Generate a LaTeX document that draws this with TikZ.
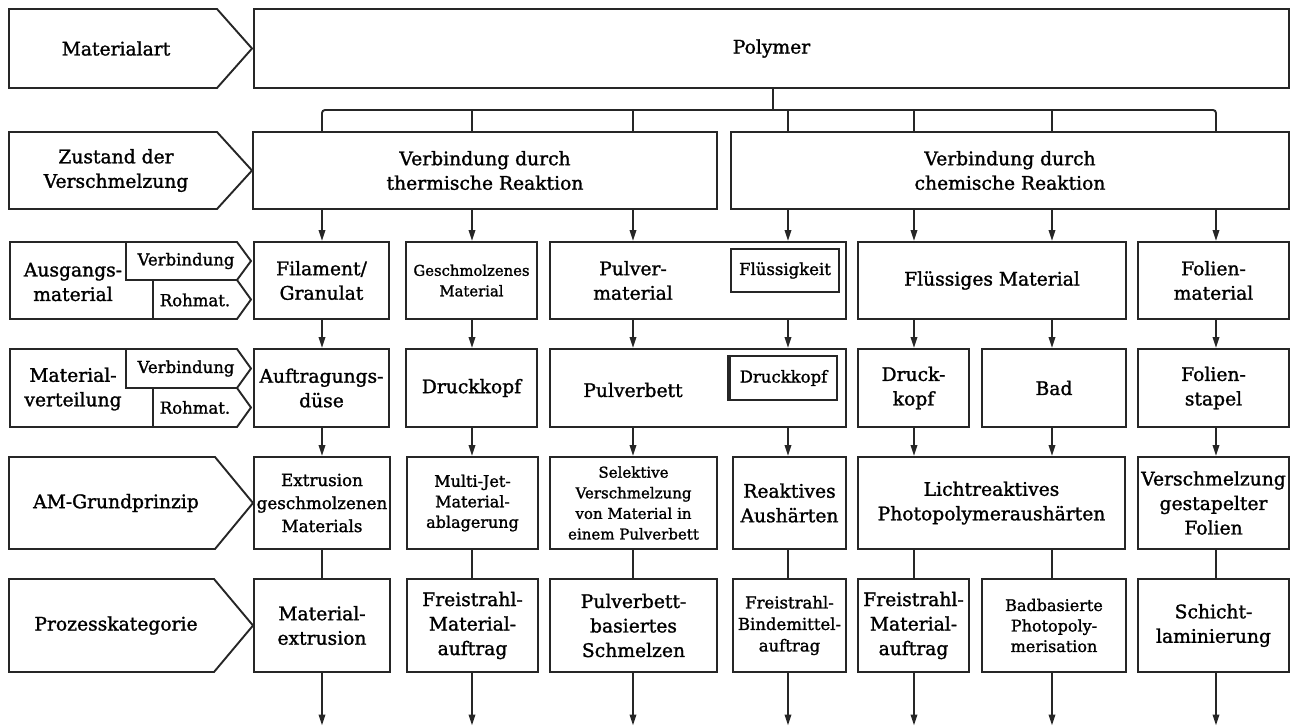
\documentclass[tikz,border=0pt]{standalone}
\usepackage{fontspec}
\setmainfont{DejaVu Serif}[FakeBold=1.4]
\usetikzlibrary{arrows.meta}
\definecolor{ink}{HTML}{262626}
% font sizes used in the chart
\newcommand\fMain{\fontsize{18.7}{24.5}\selectfont}
\newcommand\fMid{\fontsize{16.7}{23}\selectfont}
\newcommand\fSmall{\fontsize{16}{20.5}\selectfont}
\newcommand\fBind{\fontsize{16.5}{21.5}\selectfont}
\newcommand\fTiny{\fontsize{15}{20.6}\selectfont}
\newcommand\fMelt{\fontsize{14.8}{20.5}\selectfont}
\newcommand\fSub{\fontsize{16.5}{20}\selectfont}
% pointed row label: x1, y1, x of flat end, x of tip, y2
\newcommand\pentag[5]{\draw[frame] (#1,#2) -- (#3,#2) -- (#4,{(#2+#5)/2}) -- (#3,#5) -- (#1,#5) -- cycle;}
% row label split into "Verbindung" / "Rohmat." arrows: top y, bottom y, middle y
\newcommand\splittag[3]{%
  \draw[frame] (126,#1) -- (10,#1) -- (10,#2) -- (153,#2);
  \draw[frame] (126,#3) -- (126,#1) -- (237,#1) -- (251,{(#1+#3)/2}) -- (237,#3) -- cycle;
  \draw[frame] (153,#3) -- (153,#2) -- (237,#2) -- (251,{(#3+#2)/2}) -- (237,#3) -- cycle;}
\begin{document}
\begin{tikzpicture}[x=1pt,y=-1pt,
  frame/.style={draw=ink,line width=1.9pt,line join=miter},
  box/.style={draw=ink,line width=1.9pt,inner sep=0pt,align=center,font=\fMain,text=black},
  txt/.style={inner sep=0pt,align=center,font=\fMain,text=black},
  lab/.style={inner sep=0pt,align=center,font=\fMain,text=black},
  sub/.style={inner sep=0pt,align=center,font=\fSub,text=black},
  innerbox/.style={draw=ink,line width=2.3pt,inner sep=0pt,align=center,font=\fSub,text=black},
  link/.style={draw=ink,line width=1.9pt},
  arr/.style={link,-{Triangle[length=11pt,width=6.5pt]}}]
\useasboundingbox (0,0) rectangle (1293,727);

% ---------- row labels ----------
\pentag{9}{9}{217}{252}{88}
\pentag{9}{132}{217}{252}{209}
\splittag{242}{319}{280}
\splittag{349}{427}{388}
\pentag{9}{457}{215}{253}{549}
\pentag{9}{579}{214}{253}{672}

\node[lab] (l1) at (116,48.5) {Materialart};
\node[lab] (l2) at (116,170.5) {Zustand der\\Verschmelzung};
\node[lab] (l3) at (73,282) {Ausgangs-\\material};
\node[sub] (l3a) at (186,261) {Verbindung};
\node[sub] (l3b) at (195,300) {Rohmat.};
\node[lab] (l4) at (73,389) {Material-\\verteilung};
\node[sub] (l4a) at (186,368.5) {Verbindung};
\node[sub] (l4b) at (195,407.5) {Rohmat.};
\node[lab] (l5) at (116,503) {AM-Grundprinzip};
\node[lab] (l6) at (116,625.5) {Prozesskategorie};

% ---------- row 1 and 2 ----------
\node[box,minimum width=1035pt,minimum height=79pt] (poly) at (771.5,48.5) {Polymer};
\node[box,minimum width=464pt,minimum height=77pt] (therm) at (485,170.5) {Verbindung durch\\thermische Reaktion};
\node[box,minimum width=558pt,minimum height=77pt] (chem) at (1010,170.5) {Verbindung durch\\chemische Reaktion};

% ---------- row 3: starting material ----------
\node[box,minimum width=135pt,minimum height=77pt] (fil) at (321.5,280.5) {Filament/\\Granulat};
\node[box,minimum width=131pt,minimum height=77pt,font=\fMelt] (gesch) at (471.5,280.5) {Geschmolzenes\\Material};
\node[box,minimum width=296pt,minimum height=77pt] (pulv) at (698,280.5) {};
\node[txt] (pulvT) at (633,280.5) {Pulver-\\material};
\node[innerbox,minimum width=108pt,minimum height=43pt] (flk) at (785,270.5) {Flüssigkeit};
\node[box,minimum width=268pt,minimum height=77pt] (fluess) at (992,280.5) {Flüssiges Material};
\node[box,minimum width=151pt,minimum height=77pt] (folm) at (1213.5,280.5) {Folien-\\material};

% ---------- row 4: distribution ----------
\node[box,minimum width=135pt,minimum height=78pt] (duese) at (321.5,388) {Auftragungs-\\düse};
\node[box,minimum width=131pt,minimum height=78pt] (dk) at (471.5,388) {Druckkopf};
\node[box,minimum width=296pt,minimum height=78pt] (pbett) at (698,388) {};
\node[txt] (pbettT) at (633,390) {Pulverbett};
\node[innerbox,minimum width=107pt,minimum height=44pt] (dkin) at (783.5,378) {Druckkopf};
\draw[draw=ink,line width=3.2pt] (dkin.north west) -- (dkin.south west);
\node[box,minimum width=111pt,minimum height=78pt] (dk3) at (913.5,388) {Druck-\\kopf};
\node[box,minimum width=144pt,minimum height=78pt] (bad) at (1054,388) {Bad};
\node[box,minimum width=151pt,minimum height=78pt] (stapel) at (1213.5,388) {Folien-\\stapel};

% ---------- row 5: AM principle ----------
\node[box,minimum width=136pt,minimum height=92pt,font=\fMid] (extr) at (322,503) {Extrusion\\geschmolzenen\\Materials};
\node[box,minimum width=131pt,minimum height=92pt,font=\fSmall] (mj) at (472.5,503) {Multi-Jet-\\Material-\\ablagerung};
\node[box,minimum width=167pt,minimum height=92pt,font=\fTiny] (sel) at (633.5,503) {Selektive\\Verschmelzung\\von Material in\\einem Pulverbett};
\node[box,minimum width=113pt,minimum height=92pt] (react) at (789.5,503) {Reaktives\\Aushärten};
\node[box,minimum width=267pt,minimum height=92pt] (licht) at (991.5,503) {Lichtreaktives\\Photopolymeraushärten};
\node[box,minimum width=151pt,minimum height=92pt] (vfol) at (1213.5,503) {Verschmelzung\\gestapelter\\Folien};

% ---------- row 6: process category ----------
\node[box,minimum width=136pt,minimum height=93pt] (pA) at (322,625.5) {Material-\\extrusion};
\node[box,minimum width=131pt,minimum height=93pt] (pB) at (472.5,625.5) {Freistrahl-\\Material-\\auftrag};
\node[box,minimum width=167pt,minimum height=93pt] (pC) at (633.5,625.5) {Pulverbett-\\basiertes\\Schmelzen};
\node[box,minimum width=113pt,minimum height=93pt,font=\fBind] (pD) at (789.5,625.5) {Freistrahl-\\Bindemittel-\\auftrag};
\node[box,minimum width=111pt,minimum height=93pt] (pE) at (913.5,625.5) {Freistrahl-\\Material-\\auftrag};
\node[box,minimum width=144pt,minimum height=93pt,font=\fSmall] (pF) at (1054,625.5) {Badbasierte\\Photopoly-\\merisation};
\node[box,minimum width=151pt,minimum height=93pt] (pG) at (1213.5,625.5) {Schicht-\\laminierung};

% ---------- column lines ----------
\coordinate (cA) at (322,0);
\coordinate (cB) at (472,0);
\coordinate (cC) at (633,0);
\coordinate (cD) at (788,0);
\coordinate (cE) at (914,0);
\coordinate (cF) at (1052,0);
\coordinate (cG) at (1216,0);
\coordinate (bus) at (773,110);

% branching from the material type
\draw[link] (poly.south -| bus) -- (bus);
\draw[link,rounded corners=3pt] (therm.north -| cA) |- (bus) -| (chem.north -| cG);
\draw[link] (therm.north -| cB) -- (cB |- bus);
\draw[link] (therm.north -| cC) -- (cC |- bus);
\draw[link] (chem.north -| cD) -- (cD |- bus);
\draw[link] (chem.north -| cE) -- (cE |- bus);
\draw[link] (chem.north -| cF) -- (cF |- bus);

% row 2 -> row 3
\foreach \c/\s/\t in {cA/therm/fil,cB/therm/gesch,cC/therm/pulv,cD/chem/pulv,cE/chem/fluess,cF/chem/fluess,cG/chem/folm}
  \draw[arr] (\s.south -| \c) -- (\t.north -| \c);
% row 3 -> row 4
\foreach \c/\s/\t in {cA/fil/duese,cB/gesch/dk,cC/pulv/pbett,cD/pulv/pbett,cE/fluess/dk3,cF/fluess/bad,cG/folm/stapel}
  \draw[arr] (\s.south -| \c) -- (\t.north -| \c);
% row 4 -> row 5
\foreach \c/\s/\t in {cA/duese/extr,cB/dk/mj,cC/pbett/sel,cD/pbett/react,cE/dk3/licht,cF/bad/licht,cG/stapel/vfol}
  \draw[arr] (\s.south -| \c) -- (\t.north -| \c);
% row 5 -> row 6
\foreach \c/\s/\t in {cA/extr/pA,cB/mj/pB,cC/sel/pC,cD/react/pD,cE/licht/pE,cF/licht/pF,cG/vfol/pG}
  \draw[link] (\s.south -| \c) -- (\t.north -| \c);
% outgoing arrows
\foreach \c/\s in {cA/pA,cB/pB,cC/pC,cD/pD,cE/pE,cF/pF,cG/pG}{
  \coordinate (end-\s) at (\c |- 0,725.5);
  \draw[arr] (\s.south -| \c) -- (end-\s);}
\end{tikzpicture}
\end{document}
